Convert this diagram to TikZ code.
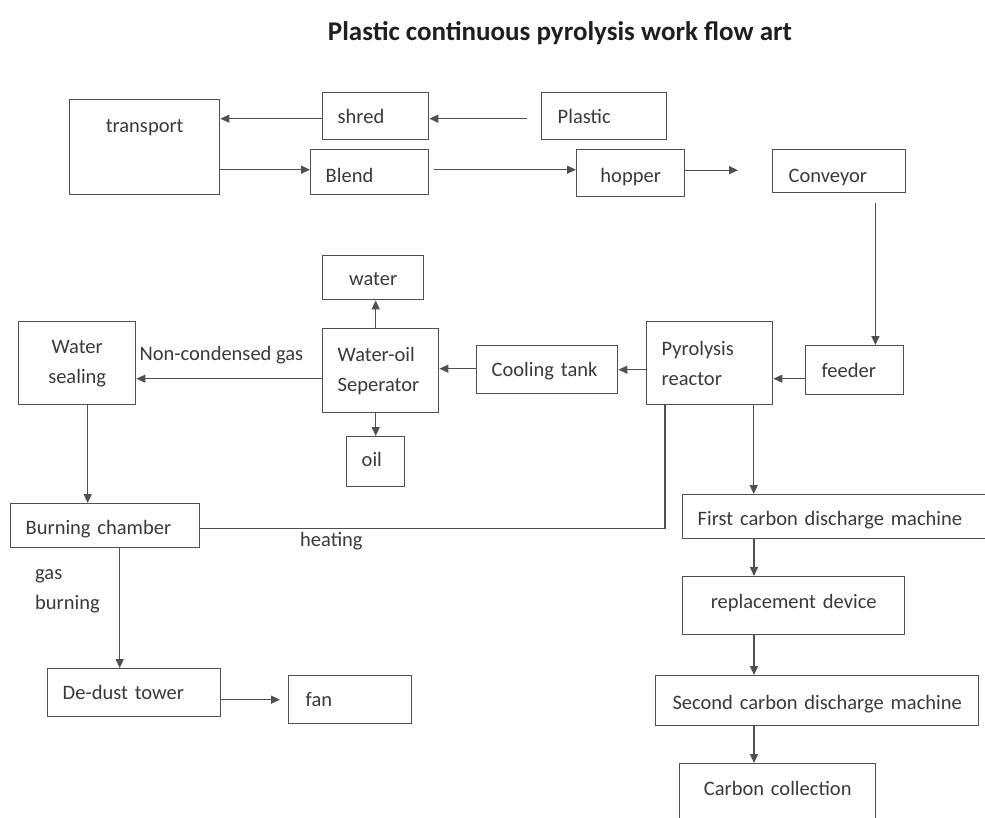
\documentclass[tikz,border=0pt]{standalone}
\usepackage{fontspec}
\setmainfont{Carlito}
\usetikzlibrary{arrows.meta}
\definecolor{ln}{HTML}{505050}
\definecolor{tx}{HTML}{3A3A3A}
\begin{document}
\begin{tikzpicture}[x=1pt,y=-1pt,
  box/.style={draw=ln, line width=1.4pt, inner ysep=0pt, anchor=north west, text=tx,
              font=\fontsize{20.5}{30}\selectfont},
  lbox/.style={box, align=left},
  cbox/.style={box, align=center},
  tv/.style={text height=#1pt, text depth=4pt},
  arr/.style={draw=ln, line width=1.4pt, -{Triangle[length=9pt,width=8pt]}},
  plain/.style={draw=ln, line width=1.4pt},
  lbl/.style={text=tx, font=\fontsize{20.5}{30}\selectfont, inner sep=0pt}]
\clip (0,0) rectangle (985,817);
\fill[white] (0,0) rectangle (985,817);

\node[font=\bfseries\fontsize{27}{31}\selectfont, text=black!88] (title) at (560,33) {Plastic continuous pyrolysis work flow art};

% boxes
\node[cbox, minimum width=150pt, minimum height=95pt, text width=130pt, inner xsep=10pt, text height=18pt, text depth=47pt] (transport) at (69,99) {transport};
\node[lbox, tv=19, minimum width=106pt, minimum height=47pt, text width=76pt, inner xsep=15pt] (shred) at (322,92) {shred};
\node[lbox, tv=19, minimum width=125pt, minimum height=47pt, text width=93pt, inner xsep=16pt] (plastic) at (541,92) {Plastic};
\node[lbox, tv=25, minimum width=118pt, minimum height=45pt, text width=88pt, inner xsep=15pt] (blend) at (310,149) {Blend};
\node[cbox, tv=23, minimum width=108pt, minimum height=47pt, text width=88pt, inner xsep=10pt] (hopper) at (576,149) {hopper};
\node[lbox, tv=27, minimum width=133pt, minimum height=43pt, text width=101pt, inner xsep=16pt] (conv) at (772,149) {Conveyor};
\node[cbox, tv=20, minimum width=101pt, minimum height=44pt, text width=81pt, inner xsep=10pt] (water) at (322,255) {water};
\node[lbox, minimum width=116pt, minimum height=84pt, text width=86pt, inner xsep=15pt] (sep) at (322,328) {Water-oil\\Seperator};
\node[lbox, tv=13, minimum width=58pt, minimum height=50pt, text width=28pt, inner xsep=15pt] (oil) at (346,436) {oil};
\node[cbox, minimum width=117pt, minimum height=83pt, text width=97pt, inner xsep=10pt] (ws) at (18,321) {Water\\sealing};
\node[lbox, tv=18, minimum width=141pt, minimum height=48pt, text width=111pt, inner xsep=15pt] (cool) at (476,345) {Cooling tank};
\node[lbox, minimum width=126pt, minimum height=83pt, text width=96pt, inner xsep=15pt] (reac) at (646,321) {Pyrolysis\\reactor};
\node[lbox, tv=19, minimum width=98pt, minimum height=49pt, text width=66pt, inner xsep=16pt] (feeder) at (805,345) {feeder};
\node[lbox, tv=22, minimum width=189pt, minimum height=44pt, text width=159pt, inner xsep=15pt] (bc) at (10,503) {Burning chamber};
\node[lbox, tv=22, minimum width=312pt, minimum height=44pt, text width=282pt, inner xsep=15pt] (first) at (682,494) {First carbon discharge machine};
\node[cbox, tv=10, minimum width=222pt, minimum height=58pt, text width=202pt, inner xsep=10pt] (repl) at (682,576) {replacement device};
\node[cbox, tv=22, minimum width=323pt, minimum height=50pt, text width=303pt, inner xsep=10pt] (second) at (655,675) {Second carbon discharge machine};
\node[cbox, tv=8, minimum width=196pt, minimum height=60pt, text width=176pt, inner xsep=10pt] (coll) at (679,763) {Carbon collection};
\node[lbox, tv=18, minimum width=173pt, minimum height=48pt, text width=143pt, inner xsep=15pt] (dd) at (47,668) {De-dust tower};
\node[lbox, tv=18, minimum width=123pt, minimum height=48pt, text width=89pt, inner xsep=17pt] (fan) at (288,675) {fan};

% free labels
\node[lbl, anchor=base west] (ncg) at ([xshift=3pt,yshift=2.5pt]ws.east) {Non-condensed gas};
\node[lbl, anchor=base west] (heat) at (300,546) {heating};
\node[lbl, anchor=north west, align=left] (gasb) at (35,569) {gas\\burning};

% connectors
\draw[arr, shorten <=14pt] ([yshift=-2.5pt]plastic.west) -- ([yshift=-2.5pt]plastic.west -| shred.east);
\draw[arr] ([yshift=-2.5pt]shred.west) -- ([yshift=-2.5pt]shred.west -| transport.east);
\draw[arr] ([yshift=2.5pt]blend.west -| transport.east) -- ([yshift=2.5pt]blend.west);
\draw[arr, shorten <=5pt] ([yshift=2.5pt]blend.east) -- ([yshift=2.5pt]blend.east -| hopper.west);
\draw[arr, shorten >=34pt] ([yshift=3pt]hopper.east) -- ([yshift=3pt]hopper.east -| conv.west);
\draw[arr, shorten <=10pt] ([xshift=-31pt]conv.south east) -- ([xshift=-31pt]conv.south east |- feeder.north);
\draw[arr] ([yshift=-8.5pt]feeder.west) -- ([yshift=-8.5pt]feeder.west -| reac.east);
\draw[arr] (cool.east -| reac.west) -- (cool.east);
\draw[arr] ([yshift=1pt]cool.west) -- ([yshift=1pt]cool.west -| sep.east);
\draw[arr] ([xshift=-5pt]sep.north) -- ([xshift=-5pt]sep.north |- water.south);
\draw[arr] (oil.north |- sep.south) -- (oil.north);
\draw[arr] ([yshift=-8pt]sep.west) -- ([yshift=-8pt]sep.west -| ws.east);
\draw[arr] ([xshift=10.5pt]ws.south) -- ([xshift=10.5pt]ws.south |- bc.north);
\draw[plain] ([yshift=-3pt]bc.east) -| ([xshift=19pt]reac.south west);
\draw[arr] ([xshift=44pt]reac.south) -- ([xshift=44pt]reac.south |- first.north);
\draw[arr] ([xshift=14.5pt]bc.south) -- ([xshift=14.5pt]bc.south |- dd.north);
\draw[arr, shorten >=8pt] (dd.east |- fan.west) -- (fan.west);
\coordinate (cx) at (754,0);
\draw[arr] (first.south -| cx) -- (repl.north -| cx);
\draw[arr] (repl.south -| cx) -- (second.north -| cx);
\draw[arr] (second.south -| cx) -- (coll.north -| cx);
\end{tikzpicture}
\end{document}
